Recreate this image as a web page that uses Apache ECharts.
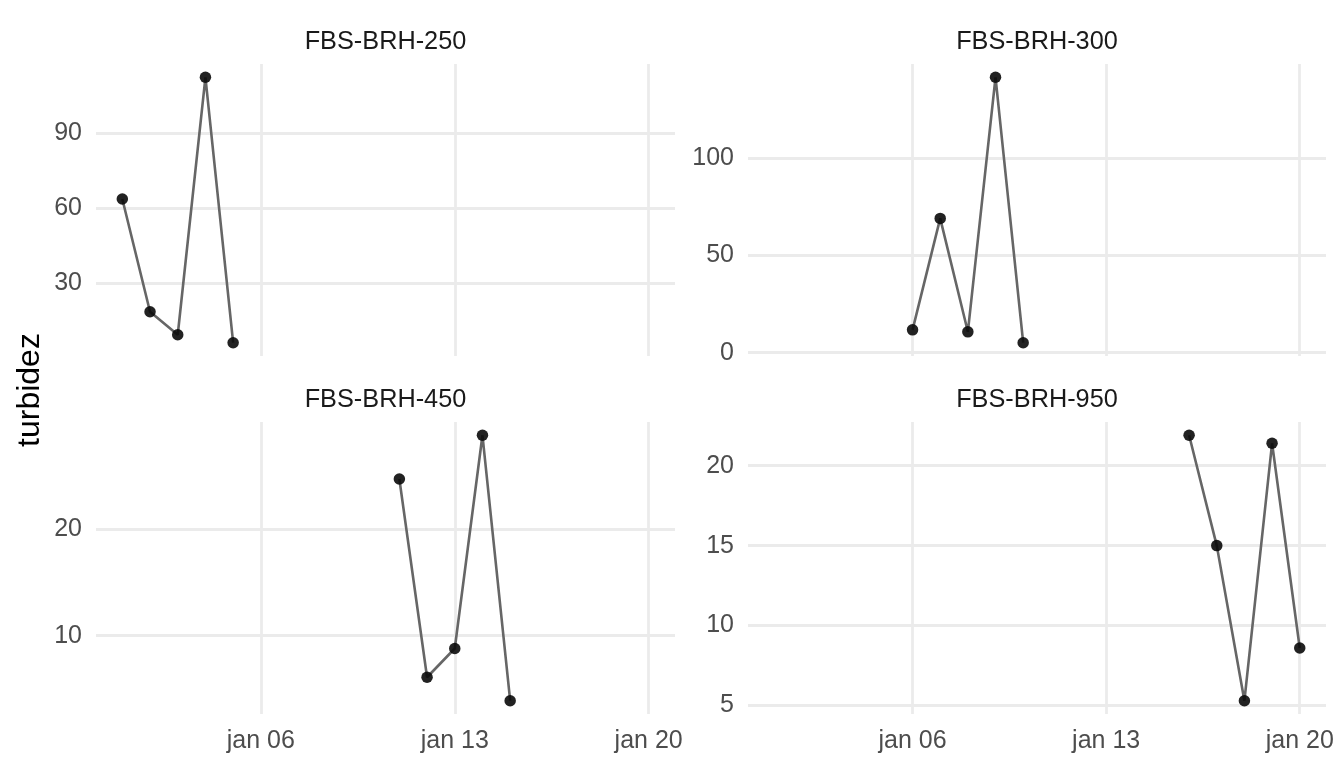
<!DOCTYPE html>
<html><head><meta charset="utf-8">
<script src="https://cdn.jsdelivr.net/npm/echarts@6/dist/echarts.min.js"></script>
<style>html,body{margin:0;padding:0;background:#fff}#c{width:1344px;height:768px}</style>
</head><body><div id="c"></div>
<script>
const panelNames = ['FBS-BRH-250', 'FBS-BRH-300', 'FBS-BRH-450', 'FBS-BRH-950'];
const dates250 = ['2025-01-01', '2025-01-02', '2025-01-03', '2025-01-04', '2025-01-05'];
const turb250 = [63.6, 18.4, 9.2, 112.4, 6.0];
const dates300 = ['2025-01-06', '2025-01-07', '2025-01-08', '2025-01-09', '2025-01-10'];
const turb300 = [11.7, 68.9, 10.7, 141.3, 5.1];
const dates450 = ['2025-01-11', '2025-01-12', '2025-01-13', '2025-01-14', '2025-01-15'];
const turb450 = [24.7, 6.1, 8.8, 28.8, 3.9];
const dates950 = ['2025-01-16', '2025-01-17', '2025-01-18', '2025-01-19', '2025-01-20'];
const turb950 = [21.9, 15.0, 5.3, 21.4, 8.6];
const yTicks250 = [30, 60, 90];
const yTicks300 = [0, 50, 100];
const yTicks450 = [10, 20];
const yTicks950 = [5, 10, 15, 20];
const xTickDates = ['2025-01-06', '2025-01-13', '2025-01-20'];
const yTitle = 'turbidez';

const ts = s => { const p = s.split('-').map(Number); return Date.UTC(p[0], p[1] - 1, p[2]); };
const panels = [
  { name: panelNames[0], dates: dates250, vals: turb250, ticks: yTicks250 },
  { name: panelNames[1], dates: dates300, vals: turb300, ticks: yTicks300 },
  { name: panelNames[2], dates: dates450, vals: turb450, ticks: yTicks450 },
  { name: panelNames[3], dates: dates950, vals: turb950, ticks: yTicks950 }
];
const allX = panels.flatMap(p => p.dates.map(ts));
const xMinD = Math.min(...allX), xMaxD = Math.max(...allX);
const xPad = (xMaxD - xMinD) * 0.05;
const xMin = xMinD - xPad, xMax = xMaxD + xPad;
const xTicks = xTickDates.map(ts);

const FONT = 'Liberation Sans, Arial, sans-serif';
const rects = [
  { left: 96, top: 64, width: 579, height: 292 },
  { left: 748, top: 64, width: 578, height: 292 },
  { left: 96, top: 422, width: 579, height: 292 },
  { left: 748, top: 422, width: 578, height: 292 }
];
const grids = [], xAxes = [], yAxes = [], series = [], graphics = [];
panels.forEach((p, i) => {
  const r = rects[i];
  grids.push(Object.assign({ outerBoundsMode: 'none', containLabel: false }, r));
  const lo = Math.min(...p.vals), hi = Math.max(...p.vals);
  const pad = (hi - lo) * 0.05;
  xAxes.push({
    type: 'value', gridIndex: i, min: xMin, max: xMax,
    axisLine: { show: false },
    axisTick: { show: false, customValues: xTicks },
    axisLabel: {
      show: i >= 2, customValues: xTicks, margin: 15,
      color: '#4D4D4D', fontSize: 25, fontFamily: FONT,
      formatter: v => { const d = new Date(v); return 'jan ' + String(d.getUTCDate()).padStart(2, '0'); }
    },
    splitLine: { show: true, lineStyle: { color: '#EBEBEB', width: 2.8 } }
  });
  yAxes.push({
    type: 'value', gridIndex: i, min: lo - pad, max: hi + pad,
    axisLine: { show: false },
    axisTick: { show: false, customValues: p.ticks },
    axisLabel: {
      customValues: p.ticks, margin: 14,
      color: '#4D4D4D', fontSize: 25, fontFamily: FONT
    },
    splitLine: { show: true, lineStyle: { color: '#EBEBEB', width: 2.8 } }
  });
  series.push({
    type: 'line', xAxisIndex: i, yAxisIndex: i,
    data: p.dates.map((d, k) => [ts(d), p.vals[k]]),
    symbol: 'circle', symbolSize: 11.5, showSymbol: true,
    lineStyle: { color: '#666666', width: 2.6 },
    itemStyle: { color: 'rgba(10,10,10,0.9)', borderWidth: 0 },
    emphasis: { disabled: true },
    animation: false
  });
  graphics.push({
    type: 'text',
    x: r.left + r.width / 2, y: r.top - 22,
    style: { text: p.name, fill: '#1A1A1A', font: '25.3px ' + FONT, textAlign: 'center', textVerticalAlign: 'middle' }
  });
});
graphics.push({
  type: 'text', x: 30, y: 390, rotation: Math.PI / 2,
  style: { text: yTitle, fill: '#000000', font: '32px ' + FONT, textAlign: 'center', textVerticalAlign: 'middle' }
});

const chart = echarts.init(document.getElementById('c'), null, { renderer: 'canvas' });
chart.setOption({
  backgroundColor: '#ffffff',
  animation: false,
  grid: grids, xAxis: xAxes, yAxis: yAxes, series: series,
  graphic: graphics
});
</script></body></html>
